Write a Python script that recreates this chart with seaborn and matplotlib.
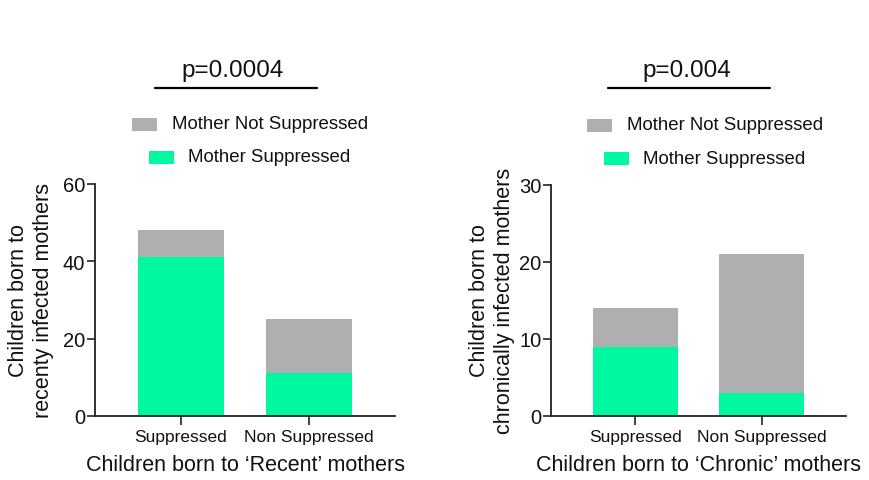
import pandas as pd
import matplotlib.pyplot as plt
import seaborn as sns
from matplotlib.patches import Rectangle
from matplotlib.lines import Line2D

# data
groups = ['Suppressed', 'Non Suppressed']
recent_total = [48, 25]
recent_suppressed = [41, 11]
chronic_total = [14, 21]
chronic_suppressed = [9, 3]
p_values = ['p=0.0004', 'p=0.004']
legend_labels = ['Mother Not Suppressed', 'Mother Suppressed']

gray = '#AFAFB0'
green = '#00F9A0'
ink = '#111111'
W, H = 870, 481

sns.set_style('ticks')
plt.rcParams['font.family'] = ['Liberation Sans', 'DejaVu Sans']
plt.rcParams.update({'text.color': ink, 'axes.labelcolor': ink,
                     'xtick.labelcolor': ink, 'ytick.labelcolor': ink})

fig = plt.figure(figsize=(W / 100, H / 100), dpi=100)


def fx(x):
    return x / W


def fy(y):
    return 1 - y / H


def make_panel(rect, total, supp, ylim, yticks, xlabel, ylabel, ylab_x):
    ax = fig.add_axes(rect)
    df = pd.DataFrame({'group': groups, 'total': total, 'supp': supp})
    sns.barplot(data=df, x='group', y='total', color=gray, width=0.67,
                saturation=1, linewidth=0, edgecolor='none', ax=ax)
    sns.barplot(data=df, x='group', y='supp', color=green, width=0.67,
                saturation=1, linewidth=0, edgecolor='none', ax=ax)
    ax.set_ylim(*ylim)
    ax.set_xlim(-0.67, 1.67)
    ax.set_yticks(yticks)
    sns.despine(ax=ax)
    for s in ['left', 'bottom']:
        ax.spines[s].set_color('#222222')
        ax.spines[s].set_linewidth(1.3)
    ax.tick_params(axis='y', labelsize=14.5, length=6, width=1.2,
                   color='#222222', pad=1)
    ax.tick_params(axis='x', labelsize=12.5, length=6.5, width=1.2,
                   color='#222222', pad=3)
    ax.set_xlabel(xlabel, fontsize=15.5, labelpad=7)
    ax.set_ylabel('')
    fig.text(fx(ylab_x), fy(301), ylabel, rotation=90, ha='center',
             va='center', fontsize=15.5, linespacing=1.3)
    return ax


make_panel([fx(95), fy(417), 300 / W, (417 - 185) / H],
           recent_total, recent_suppressed, (0, 60), [0, 20, 40, 60],
           'Children born to \u2018Recent\u2019 mothers',
           'Children born to\nrecenty infected mothers', 31)
make_panel([fx(551), fy(417), 295 / W, (417 - 186) / H],
           chronic_total, chronic_suppressed, (0, 30), [0, 10, 20, 30],
           'Children born to \u2018Chronic\u2019 mothers',
           'Children born to\nchronically infected mothers', 492)

# p-value bars and legends above each panel
panels = [
    dict(p=p_values[0], px=233, line=(155, 317),
         boxes=[(132, 125, 172), (149, 158, 188)]),
    dict(p=p_values[1], px=687, line=(608, 770),
         boxes=[(587, 126, 627), (604, 159, 643)]),
]
for pan in panels:
    fig.text(fx(pan['px']), fy(71), pan['p'], ha='center', va='center',
             fontsize=17.5)
    x0, x1 = pan['line']
    fig.add_artist(Line2D([fx(x0), fx(x1)], [fy(89), fy(89)],
                          color='black', lw=1.6))
    for (bx, by, tx), col, lab in zip(pan['boxes'], [gray, green], legend_labels):
        fig.add_artist(Rectangle((fx(bx), fy(by + 6.5)), 25 / W, 13 / H,
                                 facecolor=col, edgecolor='none'))
        fig.text(fx(tx), fy(by), lab, ha='left', va='center', fontsize=13.4)

plt.savefig('out.png', dpi=100)
